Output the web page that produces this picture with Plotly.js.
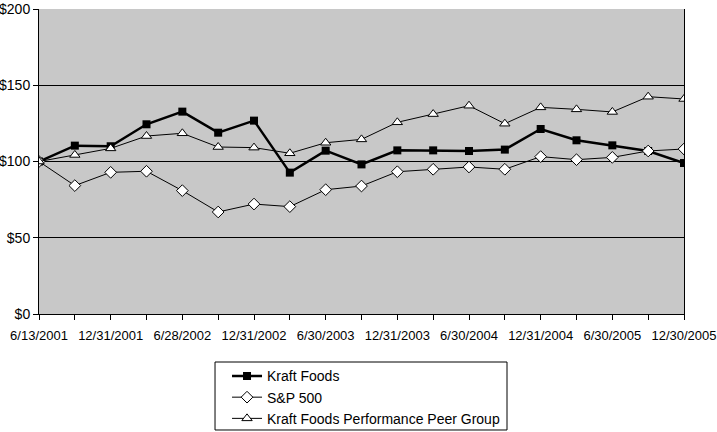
<!DOCTYPE html>
<html>
<head>
<meta charset="utf-8">
<script src="https://cdn.plot.ly/plotly-3.0.1.min.js"></script>
<style>
  body { margin: 0; background: #fff; }
  #chart { width: 717px; height: 432px; }
</style>
</head>
<body>
<div id="chart"></div>
<script>
var dates = ["6/13/2001", "9/28/2001", "12/31/2001", "3/28/2002", "6/28/2002", "9/30/2002",
    "12/31/2002", "3/31/2003", "6/30/2003", "9/30/2003", "12/31/2003", "3/31/2004",
    "6/30/2004", "9/30/2004", "12/31/2004", "3/31/2005", "6/30/2005", "9/30/2005", "12/30/2005"];

var kraft = [100, 110.4, 110, 124.4, 132.7, 118.9, 126.8, 92.7, 107.1, 98.1,
    107.3, 107.3, 106.9, 107.8, 121.3, 113.9, 110.6, 106.9, 99.0];

var sp500 = [100, 84.2, 92.9, 93.6, 80.9, 66.9, 72.1, 70.4, 81.5, 83.9,
    93.3, 94.9, 96.4, 94.9, 103.2, 101.2, 102.7, 106.9, 108.2];

var peers = [100, 104.3, 108.6, 116.7, 118.5, 109.5, 109.1, 105.4, 112.3, 114.5,
    125.7, 131.1, 136.6, 124.8, 135.5, 134.2, 132.5, 142.5, 141.0];

// only every other date gets a label, but every point gets a tick
var tickLabels = dates.map(function (d, i) { return i % 2 === 0 ? d : ''; });

function graficar() {
    var data = [
        {
            x: dates,
            y: kraft,
            name: 'Kraft Foods',
            type: 'scatter',
            mode: 'lines+markers',
            line: { color: '#000', width: 2.5 },
            marker: { symbol: 'square', size: 8, color: '#000' }
        },
        {
            x: dates,
            y: sp500,
            name: 'S&P 500',
            type: 'scatter',
            mode: 'lines+markers',
            line: { color: '#000', width: 1 },
            marker: { symbol: 'diamond', size: 9, color: '#fff', line: { color: '#000', width: 1 } }
        },
        {
            x: dates,
            y: peers,
            name: 'Kraft Foods Performance Peer Group',
            type: 'scatter',
            mode: 'lines+markers',
            line: { color: '#000', width: 1 },
            marker: { symbol: 'triangle-up', size: 9, color: '#fff', line: { color: '#000', width: 1 } }
        }
    ];

    var layout = {
        width: 717,
        height: 432,
        margin: { l: 39, r: 33, t: 9, b: 118, autoexpand: false },
        paper_bgcolor: '#fff',
        plot_bgcolor: '#c8c8c8',
        font: { family: 'Liberation Sans, Arial, sans-serif', size: 13, color: '#000' },
        showlegend: true,
        legend: {
            x: 0.2915, y: -0.152,
            xanchor: 'left', yanchor: 'top',
            bgcolor: 'rgba(0,0,0,0)',
            borderwidth: 0,
            font: { size: 14 },
            tracegroupgap: 0
        },
        // legend frame, wider than plotly's own box
        shapes: [
            {
                type: 'rect', xref: 'paper', yref: 'paper',
                x0: 0.2729, x1: 0.7256, y0: -0.3803, y1: -0.1574,
                line: { color: '#000', width: 1 },
                fillcolor: '#fff',
                layer: 'below'
            }
        ],
        xaxis: {
            type: 'category',
            categoryorder: 'array',
            categoryarray: dates,
            range: [0, dates.length - 1],
            tickvals: dates,
            ticktext: tickLabels,
            tickangle: 0,
            ticks: 'outside',
            ticklen: 5,
            tickcolor: '#000',
            ticklabelstandoff: 4,
            showgrid: false,
            showline: true,
            linecolor: '#000',
            linewidth: 1,
            mirror: false,
            zeroline: false,
            tickfont: { size: 13 }
        },
        yaxis: {
            range: [0, 200],
            tickvals: [0, 50, 100, 150, 200],
            ticktext: ['$0', '$50', '$100', '$150', '$200'],
            ticks: 'outside',
            ticklen: 5,
            tickcolor: '#000',
            showgrid: true,
            gridcolor: '#000',
            gridwidth: 1,
            showline: true,
            linecolor: '#000',
            linewidth: 1,
            mirror: true,
            zeroline: false,
            tickfont: { size: 14 }
        }
    };

    Plotly.newPlot('chart', data, layout, { displayModeBar: false, staticPlot: true });
}

graficar();
</script>
</body>
</html>
